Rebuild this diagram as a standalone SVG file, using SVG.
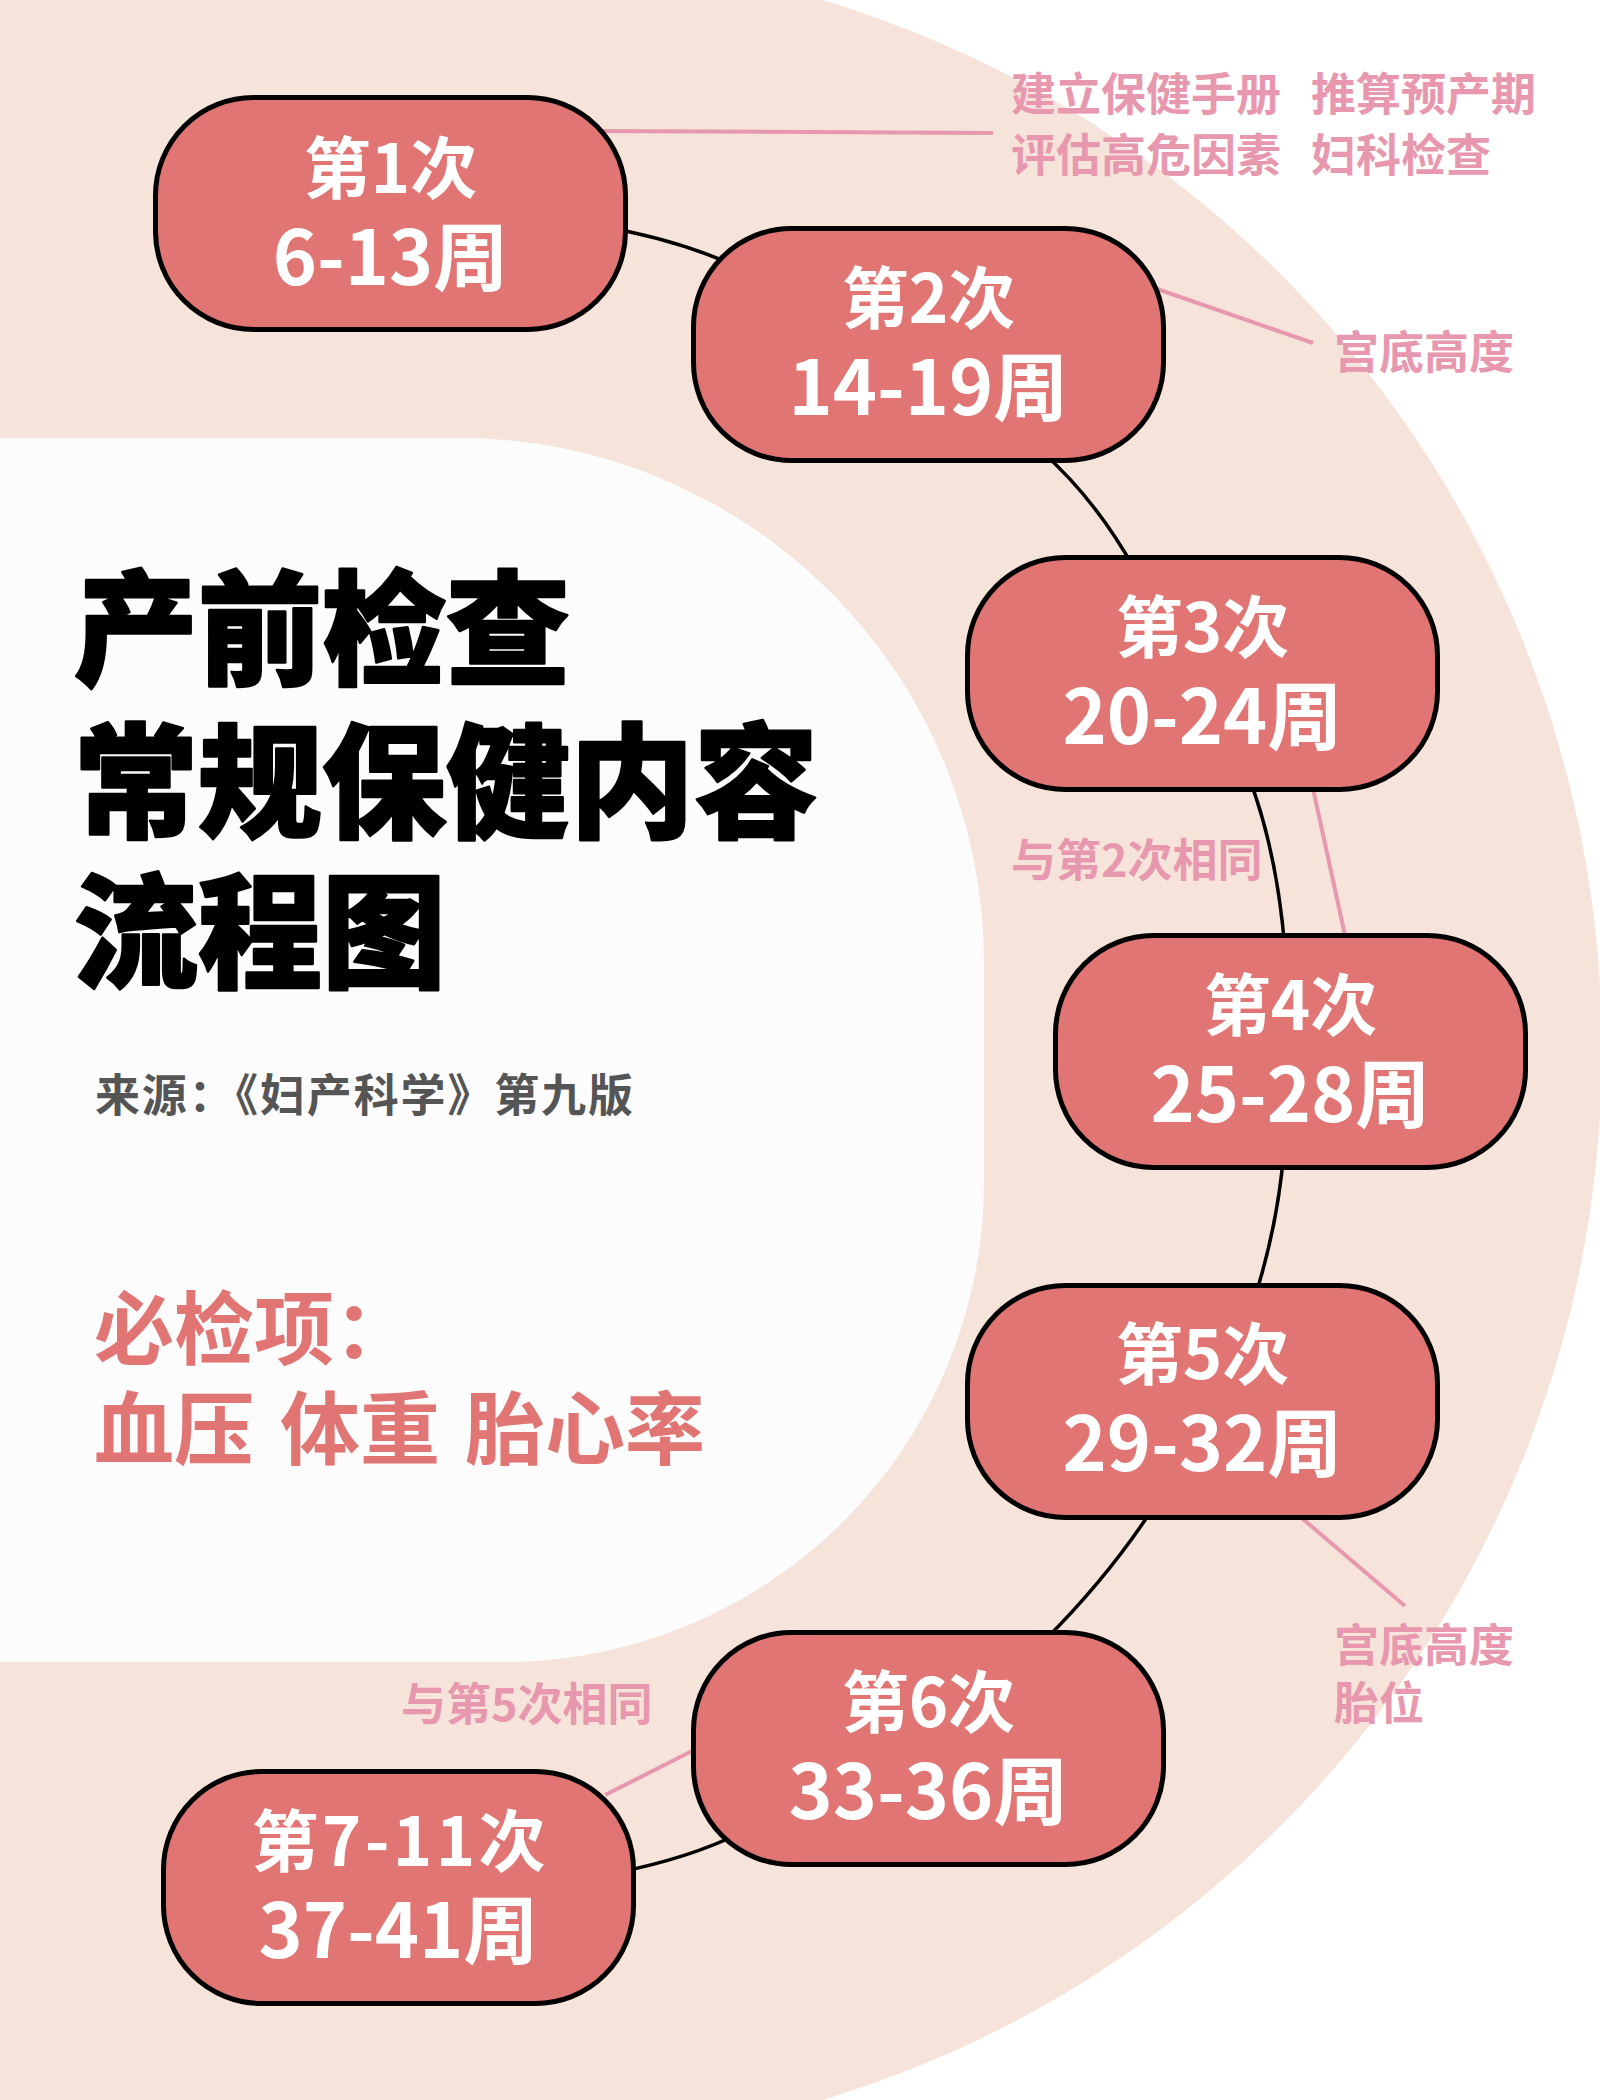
<svg xmlns="http://www.w3.org/2000/svg" width="1600" height="2100" viewBox="0 0 1600 2100">
<style>
.bg-peach { fill:#f6e4da; }
.bg-white { fill:#fcfcfc; }
.node rect { fill:#e17573; stroke:#000; stroke-width:5; }
.node text { fill:#fff; font-family:"Noto Sans CJK SC","Noto Sans",sans-serif; font-weight:700; text-anchor:middle; }
.l1 { font-size:67px; }
.l2 { font-size:75px; }
.edge { fill:none; stroke:#000; stroke-width:3.5; }
.lead { fill:none; stroke:#e898ae; stroke-width:4; }
.note { fill:#e898ae; font-family:"Noto Sans CJK SC","Noto Sans",sans-serif; font-size:45px; font-weight:700; }
.title { fill:#000; stroke:#000; stroke-width:2.5; stroke-linejoin:round; font-family:"Noto Sans CJK SC",sans-serif; font-size:124px; font-weight:900; }
.src { fill:#555; font-family:"Noto Sans CJK SC",sans-serif; font-size:45px; font-weight:700; }
.must { fill:#e17573; font-family:"Noto Sans CJK SC",sans-serif; font-size:80px; font-weight:700; }
</style>

<g id="background">
  <rect x="0" y="0" width="1600" height="2100" fill="#ffffff"/>
  <rect class="bg-peach" x="0" y="0" width="520" height="2100"/>
  <circle class="bg-peach" cx="505" cy="1050" r="1097"/>
  <path class="bg-white" d="M-10,438 H459 A525,525 0 0 1 984,963 V1182 A480,480 0 0 1 504,1662 H-10 Z"/>
</g>

<g id="title">
  <text class="title" x="74" y="675">产前检查</text>
  <text class="title" x="74" y="828">常规保健内容</text>
  <text class="title" x="74" y="978">流程图</text>
  <text class="src" x="95" y="1112" textLength="538" lengthAdjust="spacing">来源：《妇产科学》第九版</text>
  <text class="must" x="94" y="1358">必检项：</text>
  <text class="must" y="1458"><tspan x="94">血压</tspan><tspan x="280">体重</tspan><tspan x="465">胎心率</tspan></text>
</g>

<g id="connectors">
  <path class="edge" d="M600,226 Q680,240 740,268"/>
  <path class="edge" d="M1040,450 Q1095,498 1135,570"/>
  <path class="edge" d="M1248,775 Q1277,850 1285,950"/>
  <path class="edge" d="M1284,1150 Q1278,1225 1254,1300"/>
  <path class="edge" d="M1155,1505 Q1110,1575 1045,1640"/>
  <path class="edge" d="M740,1833 Q690,1858 615,1873"/>
  <path class="lead" d="M590,131 L993,133"/>
  <path class="lead" d="M1140,283 L1313,343"/>
  <path class="lead" d="M1310,775 L1346,940"/>
  <path class="lead" d="M1290,1508 L1405,1606"/>
  <path class="lead" d="M700,1747 L605,1795"/>
</g>

<g id="notes">
  <text class="note" x="1011" y="111">建立保健手册</text>
  <text class="note" x="1311" y="111">推算预产期</text>
  <text class="note" x="1011" y="172">评估高危因素</text>
  <text class="note" x="1311" y="172">妇科检查</text>
  <text class="note" x="1334" y="369">宫底高度</text>
  <text class="note" x="1011" y="877">与第2次相同</text>
  <text class="note" x="1334" y="1662">宫底高度</text>
  <text class="note" x="1334" y="1720">胎位</text>
  <text class="note" x="401" y="1721">与第5次相同</text>
</g>

<g id="node1" class="node">
  <rect x="155.5" y="97.5" width="470" height="232" rx="98"/>
  <text class="l1" x="390.5" y="192.5">第1次</text>
  <text class="l2" x="390.5" y="284.5">6-13周</text>
</g>
<g id="node2" class="node">
  <rect x="693.5" y="228.5" width="470" height="232" rx="98"/>
  <text class="l1" x="928.5" y="322.5">第2次</text>
  <text class="l2" x="928.5" y="414.5">14-19周</text>
</g>
<g id="node3" class="node">
  <rect x="967.5" y="557.5" width="470" height="232" rx="98"/>
  <text class="l1" x="1202.5" y="651.5">第3次</text>
  <text class="l2" x="1202.5" y="743.5">20-24周</text>
</g>
<g id="node4" class="node">
  <rect x="1055.5" y="935.5" width="470" height="232" rx="98"/>
  <text class="l1" x="1290.5" y="1029.5">第4次</text>
  <text class="l2" x="1290.5" y="1121.5">25-28周</text>
</g>
<g id="node5" class="node">
  <rect x="967.5" y="1285.5" width="470" height="232" rx="98"/>
  <text class="l1" x="1202.5" y="1379">第5次</text>
  <text class="l2" x="1202.5" y="1471">29-32周</text>
</g>
<g id="node6" class="node">
  <rect x="693.5" y="1632.5" width="470" height="232" rx="98"/>
  <text class="l1" x="928.5" y="1726.5">第6次</text>
  <text class="l2" x="928.5" y="1818.5">33-36周</text>
</g>
<g id="node7" class="node">
  <rect x="163.5" y="1771.5" width="470" height="232" rx="98"/>
  <text class="l1" x="398.5" y="1865.5" textLength="294" lengthAdjust="spacing">第7-11次</text>
  <text class="l2" x="398.5" y="1957.5">37-41周</text>
</g>
</svg>
